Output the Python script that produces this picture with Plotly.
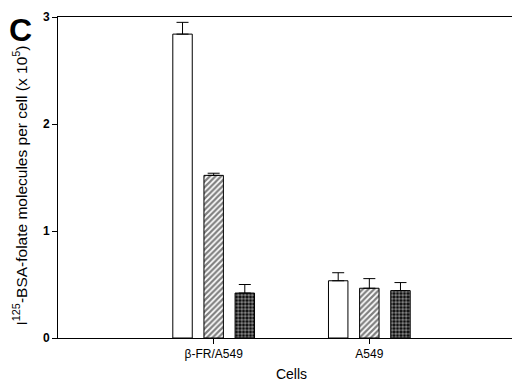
import plotly.graph_objects as go

categories = ["β-FR/A549", "A549"]
cat_pos = [1, 2]
open_vals = [2.84, 0.535]
open_err = [0.11, 0.075]
hatch_vals = [1.52, 0.465]
hatch_err = [0.02, 0.09]
cross_vals = [0.42, 0.443]
cross_err = [0.08, 0.075]

fig = go.Figure()
series = [
    (open_vals, open_err, dict(shape="", fgcolor="black", bgcolor="white", size=5, solidity=0.3)),
    (hatch_vals, hatch_err, dict(shape="/", fgcolor="black", bgcolor="white", size=4, solidity=0.55)),
    (cross_vals, cross_err, dict(shape=".", fgcolor="white", bgcolor="black", size=3.5, solidity=0.6)),
]
for vals, err, pat in series:
    fig.add_trace(go.Bar(
        x=cat_pos, y=vals,
        marker=dict(color=pat["bgcolor"], line=dict(color="black", width=1),
                    pattern=pat),
        error_y=dict(type="data", symmetric=False, array=err,
                     arrayminus=[0] * len(err), color="black",
                     thickness=1, width=6),
        showlegend=False,
    ))

fig.update_layout(
    width=520, height=384,
    margin=dict(l=50, r=2, t=7, b=54),
    paper_bgcolor="white", plot_bgcolor="white",
    barmode="group", bargap=0.4, bargroupgap=0.375,
    font=dict(family="Liberation Sans, Arial, sans-serif", color="black"),
    xaxis=dict(range=[0, 3], tickvals=cat_pos, ticktext=categories,
               showgrid=False, zeroline=False, showline=True, linecolor="black",
               linewidth=1, mirror=True, ticks="outside", ticklen=5,
               tickcolor="black", tickfont=dict(size=12),
               title=dict(text="Cells", font=dict(size=14), standoff=8)),
    yaxis=dict(range=[0, 3], tickvals=[0, 1, 2, 3],
               ticktext=["<b>0</b>", "<b>1</b>", "<b>2</b>", "<b>3</b>"],
               showgrid=False, zeroline=False, showline=True, linecolor="black",
               linewidth=1, mirror=True, ticks="outside", ticklen=5,
               tickcolor="black", tickfont=dict(size=12)),
)
fig.add_annotation(text="I<sup>125</sup>-BSA-folate molecules per cell (x 10<sup>5</sup>)",
                   textangle=-90, x=0, y=0.475, xref="paper", yref="paper",
                   xshift=-38, xanchor="center", yanchor="middle",
                   showarrow=False, font=dict(size=15.5, color="black"))
fig.add_annotation(text="<b>C</b>", x=0, y=1, xref="paper", yref="paper",
                   xshift=-51, yshift=7, xanchor="left", yanchor="top",
                   showarrow=False, font=dict(size=32, color="black"))

fig.write_html("out.html")
